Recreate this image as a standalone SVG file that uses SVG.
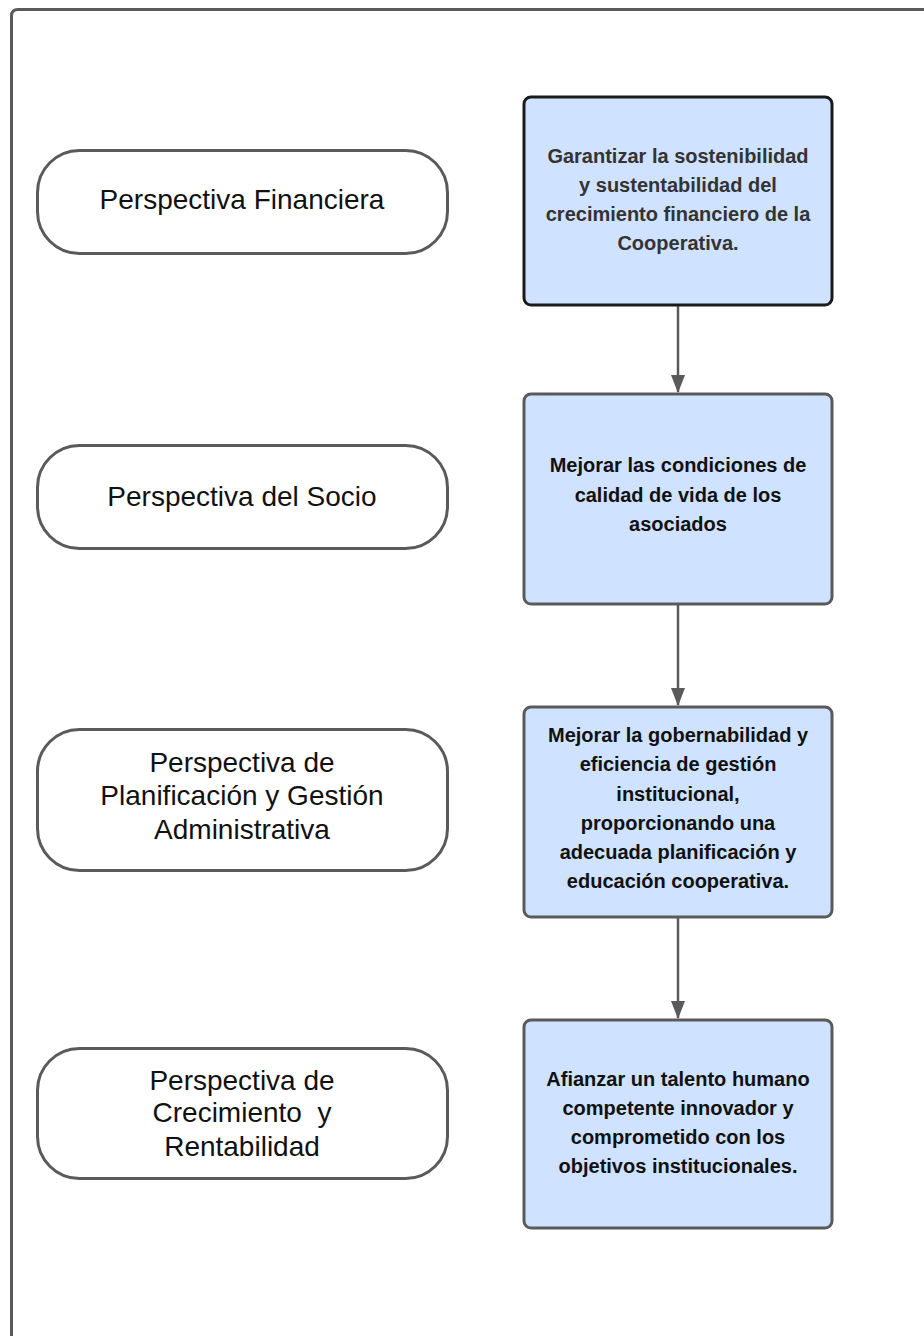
<svg xmlns="http://www.w3.org/2000/svg" width="924" height="1336" viewBox="0 0 924 1336">
<style>
.frame{fill:none;stroke:#5a5a5a;stroke-width:3}
.persp{fill:#ffffff;stroke:#5a5a5a;stroke-width:3}
.obj{fill:#cfe2ff;stroke:#5a5a5a;stroke-width:3}
.objdark{fill:#cfe2ff;stroke:#1a1a1a;stroke-width:3}
.lbl{font-family:"Liberation Sans",Arial,sans-serif;font-size:28px;fill:#111;text-anchor:middle}
.otx{font-family:"Liberation Sans",Arial,sans-serif;font-size:20px;font-weight:bold;fill:#111;text-anchor:middle}
.otx1{fill:#333}
.conn{stroke:#5a5a5a;stroke-width:2.5;fill:none}
</style>
<defs>
<marker id="arrd" markerWidth="18" markerHeight="14" refX="17" refY="7" orient="auto" markerUnits="userSpaceOnUse" viewBox="0 0 18 14">
<path d="M0,0 L18,7 L0,14 z" fill="#5a5a5a"/>
</marker>
</defs>
<rect width="924" height="1336" fill="#ffffff"/>
<path class="frame" d="M11.5,1340 L11.5,16 Q11.5,9.5 18,9.5 L930,9.5"/>

<g id="connectors">
<line class="conn" x1="678" y1="306" x2="678" y2="392" marker-end="url(#arrd)"/>
<line class="conn" x1="678" y1="605" x2="678" y2="705" marker-end="url(#arrd)"/>
<line class="conn" x1="678" y1="918" x2="678" y2="1018" marker-end="url(#arrd)"/>
</g>

<g id="p1">
<rect class="persp" x="37.5" y="150.5" width="410" height="103" rx="42"/>
<text class="lbl" x="242" y="209">Perspectiva Financiera</text>
</g>
<g id="p2">
<rect class="persp" x="37.5" y="445.5" width="410" height="103" rx="42"/>
<text class="lbl" x="242" y="506">Perspectiva del Socio</text>
</g>
<g id="p3">
<rect class="persp" x="37.5" y="729.5" width="410" height="141" rx="42"/>
<text class="lbl" x="242" y="772">Perspectiva de</text>
<text class="lbl" x="242" y="805">Planificación y Gestión</text>
<text class="lbl" x="242" y="839">Administrativa</text>
</g>
<g id="p4">
<rect class="persp" x="37.5" y="1048.5" width="410" height="130" rx="42"/>
<text class="lbl" x="242" y="1090">Perspectiva de</text>
<text class="lbl" x="242" y="1122" xml:space="preserve">Crecimiento  y</text>
<text class="lbl" x="242" y="1156">Rentabilidad</text>
</g>

<g id="o1">
<rect class="objdark" x="524" y="97" width="308" height="208" rx="7"/>
<text class="otx otx1" x="678" y="163">Garantizar la sostenibilidad</text>
<text class="otx otx1" x="678" y="192">y sustentabilidad del</text>
<text class="otx otx1" x="678" y="221">crecimiento financiero de la</text>
<text class="otx otx1" x="678" y="250">Cooperativa.</text>
</g>
<g id="o2">
<rect class="obj" x="524" y="394" width="308" height="210" rx="7"/>
<text class="otx" x="678" y="472">Mejorar las condiciones de</text>
<text class="otx" x="678" y="502">calidad de vida de los</text>
<text class="otx" x="678" y="531">asociados</text>
</g>
<g id="o3">
<rect class="obj" x="524" y="707" width="308" height="210" rx="7"/>
<text class="otx" x="678" y="742">Mejorar la gobernabilidad y</text>
<text class="otx" x="678" y="771">eficiencia de gestión</text>
<text class="otx" x="678" y="801">institucional,</text>
<text class="otx" x="678" y="830">proporcionando una</text>
<text class="otx" x="678" y="859">adecuada planificación y</text>
<text class="otx" x="678" y="888">educación cooperativa.</text>
</g>
<g id="o4">
<rect class="obj" x="524" y="1020" width="308" height="208" rx="7"/>
<text class="otx" x="678" y="1086">Afianzar un talento humano</text>
<text class="otx" x="678" y="1115">competente innovador y</text>
<text class="otx" x="678" y="1144">comprometido con los</text>
<text class="otx" x="678" y="1173">objetivos institucionales.</text>
</g>
</svg>
